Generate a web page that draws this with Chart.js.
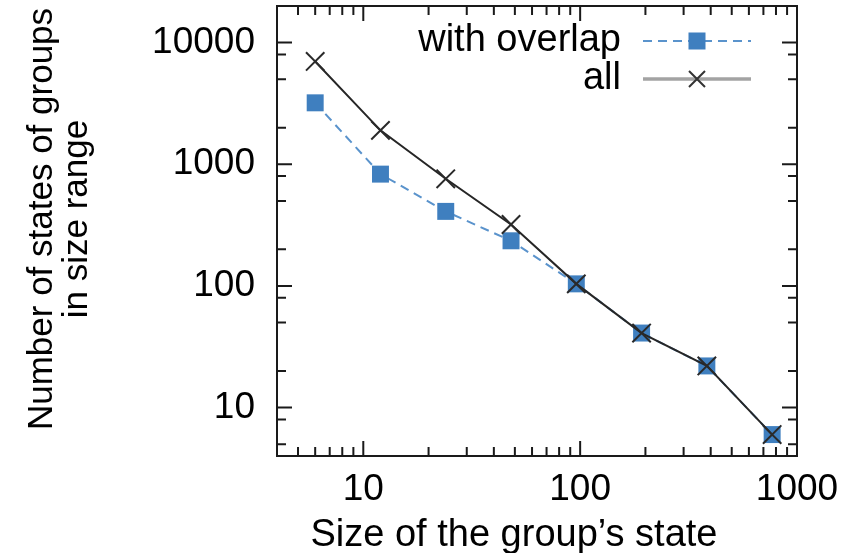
<!DOCTYPE html>
<html>
<head>
<meta charset="utf-8">
<script src="https://cdn.jsdelivr.net/npm/chart.js@4/dist/chart.umd.min.js"></script>
<style>
  html, body { margin: 0; padding: 0; background: #ffffff; }
  #wrap { width: 858px; height: 553px; }
</style>
</head>
<body>
<div id="wrap"><canvas id="chart" width="858" height="553"></canvas></div>
<script>
// Group state sizes (bin centres) and number of states per size range
const sizes = [6, 12, 24, 48, 96, 192, 384, 768];
const withOverlap = [3200, 830, 410, 235, 104, 41, 22, 6];
const allStates = [7000, 1900, 760, 320, 104, 41, 22, 6];

// Axis ticks
const xMajorTicks = [10, 100, 1000];
const xMinorTicks = [5, 6, 7, 8, 9, 20, 30, 40, 50, 60, 70, 80, 90, 200, 300, 400, 500, 600, 700, 800, 900];
const yMajorTicks = [10, 100, 1000, 10000];
const yMinorTicks = [5, 8, 20, 50, 80, 200, 500, 800, 2000, 5000, 8000];

const seriesNames = ['with overlap', 'all'];
const xTitle = 'Size of the group\u2019s state';
const yTitleLines = ['Number of states of groups', 'in size range'];

const FONT = '"Liberation Sans", Arial, Helvetica, sans-serif';
const BLUE = '#3f7fbf';
const BLUE_LINE = '#5a93cc';
const DARK = '#262626';

function drawSquare(ctx, x, y, side, color) {
  ctx.fillStyle = color;
  ctx.fillRect(x - side / 2, y - side / 2, side, side);
}
function drawCross(ctx, x, y, half, color, width) {
  ctx.strokeStyle = color;
  ctx.lineWidth = width;
  ctx.setLineDash([]);
  ctx.beginPath();
  ctx.moveTo(x - half, y - half); ctx.lineTo(x + half, y + half);
  ctx.moveTo(x - half, y + half); ctx.lineTo(x + half, y - half);
  ctx.stroke();
}

// Frame with inward tick marks on all four sides
const frameAndTicks = {
  id: 'frameAndTicks',
  beforeDatasetsDraw(chart) {
    const { ctx, chartArea: a, scales: { x, y } } = chart;
    const MAJ = 15, MIN = 9;
    ctx.save();
    ctx.strokeStyle = '#1a1a1a';
    ctx.lineWidth = 2;
    ctx.beginPath();
    const xt = (v, len) => {
      const p = x.getPixelForValue(v);
      ctx.moveTo(p, a.bottom); ctx.lineTo(p, a.bottom - len);
      ctx.moveTo(p, a.top); ctx.lineTo(p, a.top + len);
    };
    const yt = (v, len) => {
      const p = y.getPixelForValue(v);
      ctx.moveTo(a.left, p); ctx.lineTo(a.left + len, p);
      ctx.moveTo(a.right, p); ctx.lineTo(a.right - len, p);
    };
    xMajorTicks.forEach(v => xt(v, MAJ));
    xMinorTicks.forEach(v => xt(v, MIN));
    yMajorTicks.forEach(v => yt(v, MAJ));
    yMinorTicks.forEach(v => yt(v, MIN));
    ctx.stroke();
    ctx.strokeRect(a.left, a.top, a.right - a.left, a.bottom - a.top);
    ctx.restore();
  }
};

// Key in the upper right corner and the axis titles
const keyAndTitles = {
  id: 'keyAndTitles',
  afterDraw(chart) {
    const { ctx } = chart;
    ctx.save();
    ctx.font = '38px ' + FONT;
    ctx.fillStyle = '#000';
    ctx.textAlign = 'right';
    ctx.textBaseline = 'middle';
    const rows = [41, 79];
    const tx = 621, l0 = 643, l1 = 751, mx = 697;
    ctx.fillText(seriesNames[0], tx, rows[0]);
    ctx.fillText(seriesNames[1], tx, rows[1]);

    ctx.strokeStyle = BLUE_LINE;
    ctx.lineWidth = 2;
    ctx.setLineDash([9, 6]);
    ctx.beginPath(); ctx.moveTo(l0, rows[0]); ctx.lineTo(l1, rows[0]); ctx.stroke();
    ctx.setLineDash([]);
    drawSquare(ctx, mx, rows[0], 17, BLUE);

    ctx.strokeStyle = '#a3a3a3';
    ctx.lineWidth = 3.5;
    ctx.beginPath(); ctx.moveTo(l0, rows[1]); ctx.lineTo(l1, rows[1]); ctx.stroke();
    drawCross(ctx, mx, rows[1], 8, '#333', 2);

    // x axis title
    ctx.fillStyle = '#000';
    ctx.font = '38px ' + FONT;
    ctx.textAlign = 'center';
    ctx.textBaseline = 'alphabetic';
    ctx.fillText(xTitle, 514, 546);

    // y axis title, rotated
    ctx.font = '35px ' + FONT;
    const baselines = [52, 87];
    yTitleLines.forEach((line, i) => {
      ctx.save();
      ctx.translate(baselines[i], 219);
      ctx.rotate(-Math.PI / 2);
      ctx.fillText(line, 0, 0);
      ctx.restore();
    });
    ctx.restore();
  }
};

const points = (ys) => sizes.map((s, i) => ({ x: s, y: ys[i] }));

new Chart(document.getElementById('chart'), {
  type: 'line',
  data: {
    datasets: [
      {
        label: seriesNames[1],
        data: points(allStates),
        borderColor: DARK,
        borderWidth: 2,
        pointStyle: 'crossRot',
        pointRadius: 13,
        pointBorderColor: '#2a2a2a',
        pointBorderWidth: 2,
        pointBackgroundColor: 'transparent',
        fill: false,
        tension: 0,
        order: 0
      },
      {
        label: seriesNames[0],
        data: points(withOverlap),
        borderColor: BLUE_LINE,
        borderWidth: 2,
        borderDash: [9, 6],
        pointStyle: 'rect',
        pointRadius: 12,
        pointBackgroundColor: BLUE,
        pointBorderColor: BLUE,
        pointBorderWidth: 0,
        fill: false,
        tension: 0,
        order: 1
      }
    ]
  },
  options: {
    responsive: false,
    animation: false,
    devicePixelRatio: 1,
    layout: { autoPadding: false, padding: { left: 0, right: 61, top: 6, bottom: 0 } },
    plugins: { legend: { display: false }, tooltip: { enabled: false } },
    scales: {
      x: {
        type: 'logarithmic',
        position: 'bottom',
        min: 4,
        max: 1000,
        grid: { display: false, drawTicks: false, tickLength: 0 },
        border: { display: false },
        ticks: {
          font: { family: FONT, size: 37 },
          color: '#000',
          padding: 12,
          maxRotation: 0,
          autoSkip: false,
          callback: (v) => String(v)
        },
        afterBuildTicks: (scale) => { scale.ticks = xMajorTicks.map(v => ({ value: v })); },
        afterFit: (scale) => {
          scale.height = 97;
          scale.paddingLeft = 0; scale.paddingRight = 0;
        }
      },
      y: {
        type: 'logarithmic',
        position: 'left',
        min: 4,
        max: 20000,
        grid: { display: false, drawTicks: false, tickLength: 0 },
        border: { display: false },
        ticks: {
          font: { family: FONT, size: 37 },
          color: '#000',
          padding: 22,
          autoSkip: false,
          callback: (v) => String(v)
        },
        afterBuildTicks: (scale) => { scale.ticks = yMajorTicks.map(v => ({ value: v })); },
        afterFit: (scale) => {
          scale.width = 277;
          scale.paddingTop = 0; scale.paddingBottom = 0;
        }
      }
    }
  },
  plugins: [frameAndTicks, keyAndTitles]
});
</script>
</body>
</html>
